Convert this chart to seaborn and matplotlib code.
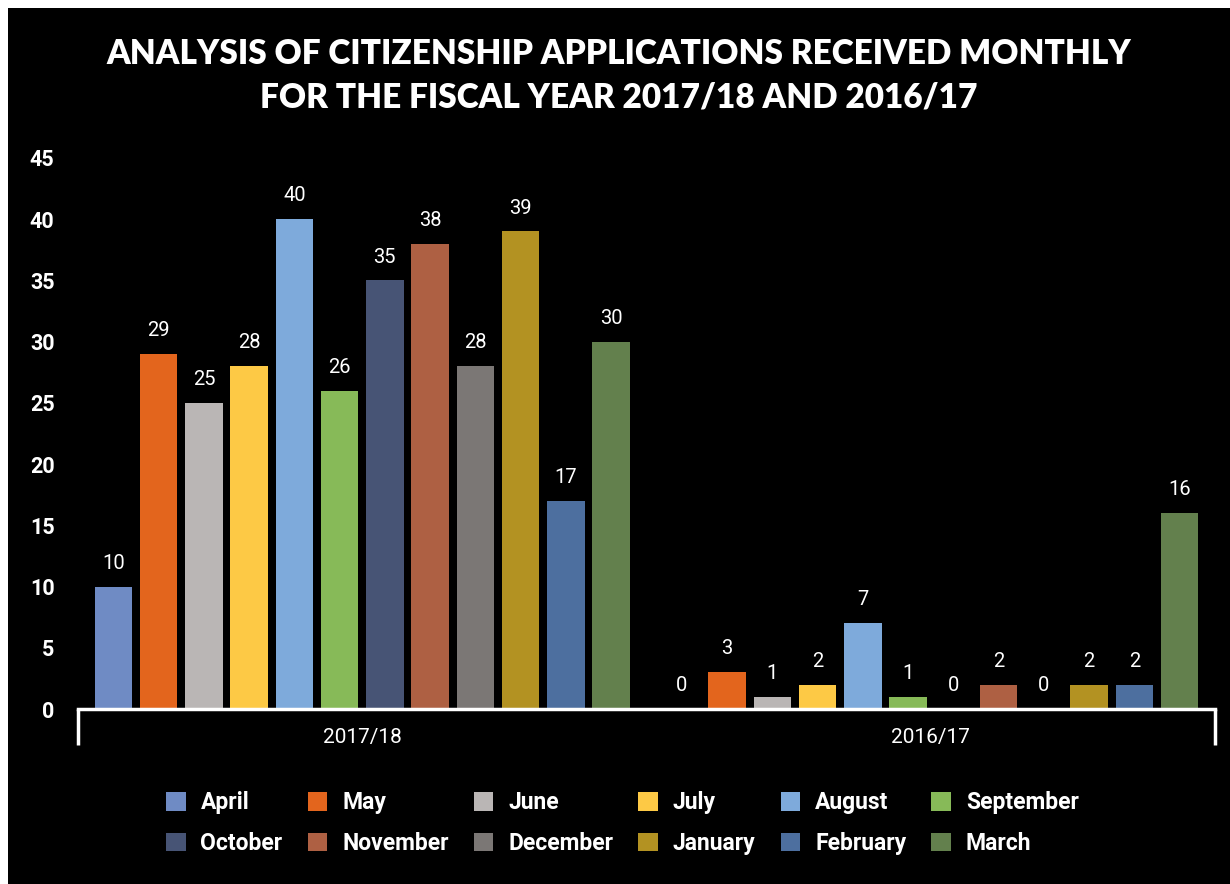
import matplotlib
matplotlib.use("Agg")
import matplotlib.pyplot as plt
import seaborn as sns
import pandas as pd
from matplotlib.patches import Rectangle, Patch

years = ["2017/18", "2016/17"]
months = ["April", "May", "June", "July", "August", "September",
          "October", "November", "December", "January", "February", "March"]
values_2017_18 = [10, 29, 25, 28, 40, 26, 35, 38, 28, 39, 17, 30]
values_2016_17 = [0, 3, 1, 2, 7, 1, 0, 2, 0, 2, 2, 16]
colors = ["#6F8BC4", "#E3651D", "#BAB6B5", "#FDC945", "#7EAADB", "#87BA58",
          "#475475", "#AE6043", "#7B7775", "#B39222", "#4D6F9F", "#63804D"]
yticks = [0, 5, 10, 15, 20, 25, 30, 35, 40, 45]
title = "ANALYSIS OF CITIZENSHIP APPLICATIONS RECEIVED MONTHLY\nFOR THE FISCAL YEAR 2017/18 AND 2016/17"

rows = []
for m, v in zip(months, values_2017_18):
    rows.append({"year": years[0], "month": m, "value": v})
for m, v in zip(months, values_2016_17):
    rows.append({"year": years[1], "month": m, "value": v})
df = pd.DataFrame(rows)

sns.set_theme(style="white")
cond = ["Roboto", "DejaVu Sans"]

fig = plt.figure(figsize=(12.3, 8.84), dpi=100)
fig.patch.set_facecolor("white")
fig.patches.append(Rectangle((8 / 1230, 0), 1 - 8 / 1230, 1 - 8 / 884,
                             transform=fig.transFigure, facecolor="black",
                             edgecolor="none", zorder=-10))

ax = fig.add_axes([78 / 1230, 1 - 709 / 884, (1215 - 78) / 1230, (709 - 158) / 884])
ax.set_facecolor("black")

sns.barplot(data=df, x="year", y="value", hue="month", order=years,
            hue_order=months, palette=colors, width=0.955, gap=0.17,
            ax=ax, legend=False, saturation=1, edgecolor="none")

for cont in ax.containers:
    for bar in cont:
        h = bar.get_height()
        ax.annotate(f"{int(round(h))}", (bar.get_x() + bar.get_width() / 2, h),
                    xytext=(0, 10), textcoords="offset points",
                    ha="center", va="bottom", color="white",
                    fontsize=14.5, family=["Roboto", "DejaVu Sans"])

ax.set_ylim(0, 45)
ax.set_xlim(-0.5, 1.5)
ax.set_yticks(yticks)
ax.set_yticklabels([str(t) for t in yticks], color="white", fontsize=15.5,
                   fontweight="bold", family=cond)
ax.tick_params(axis="y", length=0, pad=17)
ax.set_xticks([0, 1])
ax.set_xticklabels(years, color="white", fontsize=15, family=["Roboto", "DejaVu Sans"])
ax.tick_params(axis="x", which="major", bottom=False, length=0, pad=14)
ax.set_xticks([-0.5, 1.5], minor=True)
ax.tick_params(axis="x", which="minor", bottom=True, length=26, width=2.5,
               color="white", direction="out")
ax.set_xlabel("")
ax.set_ylabel("")
for s in ["top", "right", "left"]:
    ax.spines[s].set_visible(False)
ax.spines["bottom"].set_color("white")
ax.spines["bottom"].set_linewidth(2.5)
ax.grid(False)

fig.text(0.5 + 4 / 1230, 1 - 76 / 884, title, ha="center", va="center",
         color="white", fontsize=24, fontweight="heavy",
         family=["Lato", "DejaVu Sans"], linespacing=1.45)

handles = [Patch(facecolor=c, edgecolor="none") for c in colors]
order = []
for col in range(6):
    order += [col, col + 6]
leg = fig.legend([handles[i] for i in order], [months[i] for i in order],
                 ncol=6, loc="center", bbox_to_anchor=(0.506, 1 - 823 / 884),
                 frameon=False, handlelength=0.85, handleheight=0.85,
                 columnspacing=1.1, handletextpad=0.65, labelspacing=0.75,
                 prop={"family": cond, "weight": "bold", "size": 16.5})
for t in leg.get_texts():
    t.set_color("white")

fig.savefig("out.png", dpi=100, facecolor=fig.get_facecolor())
